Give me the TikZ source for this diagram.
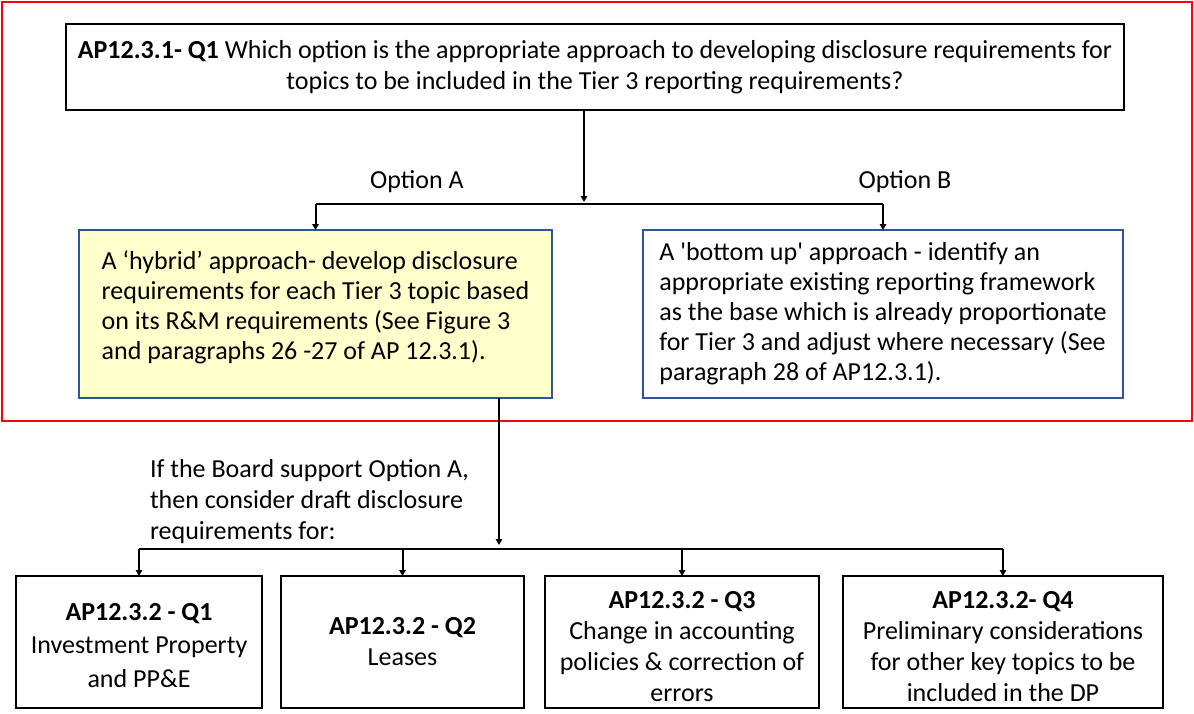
\documentclass[tikz,border=0pt]{standalone}
\usepackage{fontspec}
\setmainfont{Carlito}
\usetikzlibrary{arrows.meta}
\definecolor{framered}{HTML}{FF0000}
\definecolor{optblue}{HTML}{2F5597}
\definecolor{optyellow}{HTML}{FFFFCC}
\begin{document}
\begin{tikzpicture}[x=1pt,y=-1pt,
  every node/.style={font=\fontsize{26}{31}\selectfont, inner sep=0pt, outer sep=0pt},
  qbox/.style={draw=black, line width=2.4pt, align=center},
  optbox/.style={draw=optblue, line width=2pt, align=left, minimum height=168pt, font=\fontsize{26}{30}\selectfont},
  conn/.style={draw=black, line width=2pt},
  arr/.style={conn, -{Triangle[length=6pt,width=6.5pt]}}]
\useasboundingbox (0,0) rectangle (1194,713);
% red frame
\node[draw=framered, line width=2pt, minimum width=1190pt, minimum height=419pt] (frame) at (597,211.5) {};
% question box
\node[qbox, minimum width=1058pt, minimum height=86pt] (top) at (595,67)
  {\textbf{AP12.3.1- Q1} Which option is the appropriate approach to developing disclosure requirements for\\
   topics to be included in the Tier 3 reporting requirements?};
% options
\node[optbox, fill=optyellow, minimum width=473pt] (ya) at (315.5,314)
  {A ‘hybrid’ approach- develop disclosure\\
   requirements for each Tier 3 topic based\\
   on its R\&M requirements (See Figure 3\\
   and paragraphs 26 -27 of AP 12.3.1).\rule[-18pt]{0pt}{0pt}};
\node[optbox, fill=white, minimum width=480pt] (yb) at (883,314)
  {A \textquotesingle bottom up\textquotesingle{} approach - identify an\\
   appropriate existing reporting framework\\
   as the base which is already proportionate\\
   for Tier 3 and adjust where necessary (See\\
   paragraph 28 of AP12.3.1).};
\node[anchor=south] (labA) at (417,193) {Option A};
\node[anchor=south] (labB) at (905,193) {Option B};
% condition text
\node[anchor=west, align=left] (cond) at (150,502)
  {If the Board support Option A,\\
   then consider draft disclosure\\
   requirements for:};
% bottom boxes
\node[qbox, minimum width=246pt, minimum height=132pt, font=\fontsize{26}{33.5}\selectfont] (b1) at (139,642)
  {\rule{0pt}{24pt}\textbf{AP12.3.2 - Q1}\\ Investment Property\\ and PP\&E};
\node[qbox, minimum width=243pt, minimum height=132pt] (b2) at (402.5,642)
  {\textbf{AP12.3.2 - Q2}\\ Leases};
\node[qbox, minimum width=274pt, minimum height=132pt] (b3) at (682,642)
  {\rule{0pt}{26pt}\textbf{AP12.3.2 - Q3}\\ Change in accounting\\ policies \& correction of\\ errors};
\node[qbox, minimum width=320pt, minimum height=132pt] (b4) at (1003,642)
  {\rule{0pt}{26pt}\textbf{AP12.3.2- Q4}\\ Preliminary considerations\\ for other key topics to be\\ included in the DP};
% connectors
\coordinate (tA) at (584,202);
\coordinate (hA) at (0,204);
\draw[arr] (top.south -| tA) -- (tA);
\draw[conn] (ya.north |- hA) -- (yb.north |- hA);
\draw[arr] (ya.north |- hA) -- (ya.north);
\draw[arr] (yb.north |- hA) -- (yb.north);
\coordinate (dB) at (499,545);
\coordinate (hB) at (0,549);
\draw[arr] (ya.south -| dB) -- (dB);
\draw[conn] (b1.north |- hB) -- (b4.north |- hB);
\foreach \b in {b1,b2,b3,b4} \draw[arr] (\b.north |- hB) -- (\b.north);
\end{tikzpicture}
\end{document}
